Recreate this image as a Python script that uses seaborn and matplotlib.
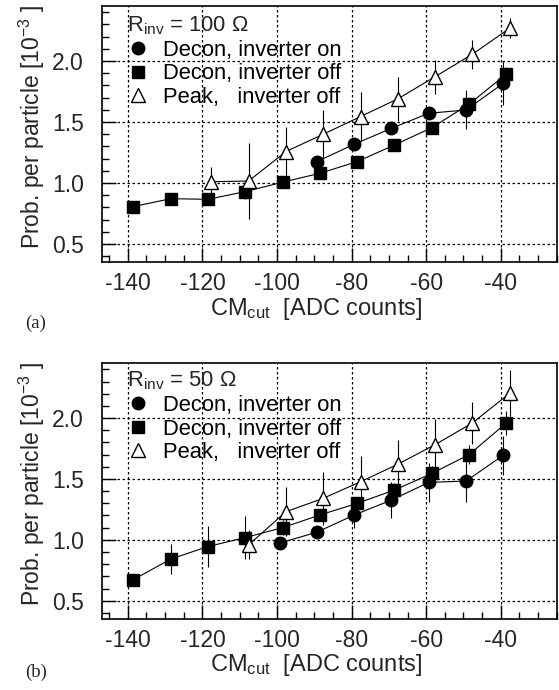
import numpy as np
import pandas as pd
import matplotlib
matplotlib.use("Agg")
import matplotlib.pyplot as plt
import seaborn as sns
from matplotlib.lines import Line2D
from matplotlib.ticker import MultipleLocator

# ---------------- data ----------------
# Panel (a): R_inv = 100 Ohm
sq_x_a = [-138.5, -128.5, -118.5, -108.5, -98.5, -88.5, -78.5, -68.5, -58.5, -48.5, -38.5]
sq_y_a = [0.806, 0.871, 0.866, 0.929, 1.006, 1.079, 1.175, 1.311, 1.453, 1.645, 1.893]
sq_e_a = [0.02, 0.02, 0.04, 0.06, 0.05, 0.03, 0.03, 0.05, 0.04, 0.06, 0.06]
ci_x_a = [-89.3, -79.3, -69.3, -59.3, -49.3, -39.3]
ci_y_a = [1.175, 1.317, 1.448, 1.571, 1.598, 1.817]
ci_e_a = [0.04, 0.04, 0.04, 0.05, 0.16, 0.18]
tr_x_a = [-117.6, -107.6, -97.6, -87.6, -77.6, -67.6, -57.6, -47.6, -37.6]
tr_y_a = [1.01, 1.016, 1.257, 1.399, 1.544, 1.689, 1.871, 2.055, 2.268]
tr_e_a = [0.12, 0.31, 0.20, 0.20, 0.20, 0.18, 0.14, 0.12, 0.08]

# Panel (b): R_inv = 50 Ohm
sq_x_b = [-138.5, -128.5, -118.5, -108.5, -98.5, -88.5, -78.5, -68.5, -58.5, -48.5, -38.5]
sq_y_b = [0.673, 0.842, 0.945, 1.019, 1.10, 1.204, 1.30, 1.409, 1.545, 1.70, 1.96]
sq_e_b = [0.02, 0.12, 0.17, 0.18, 0.06, 0.05, 0.05, 0.06, 0.06, 0.08, 0.10]
ci_x_b = [-99.3, -89.3, -79.3, -69.3, -59.3, -49.3, -39.3]
ci_y_b = [0.973, 1.063, 1.204, 1.327, 1.472, 1.483, 1.695]
ci_e_b = [0.03, 0.04, 0.11, 0.15, 0.16, 0.17, 0.16]
tr_x_b = [-107.6, -97.6, -87.6, -77.6, -67.6, -57.6, -47.6, -37.6]
tr_y_b = [0.959, 1.231, 1.341, 1.477, 1.621, 1.782, 1.96, 2.204]
tr_e_b = [0.12, 0.20, 0.22, 0.21, 0.20, 0.21, 0.17, 0.19]

labels = ["Decon, inverter on", "Decon, inverter off", "Peak,   inverter off"]
titles = ["R$_{\\mathrm{inv}}$ = 100 \u03a9", "R$_{\\mathrm{inv}}$ = 50 \u03a9"]
xticks = [-140, -120, -100, -80, -60, -40]
yticks = [0.5, 1.0, 1.5, 2.0]

# ---------------- style ----------------
sns.set_theme(style="white")
plt.rcParams["font.family"] = ["Liberation Sans", "DejaVu Sans"]
plt.rcParams["axes.unicode_minus"] = False
plt.rcParams["mathtext.fontset"] = "custom"
plt.rcParams["mathtext.rm"] = "Liberation Sans"
plt.rcParams["mathtext.it"] = "Liberation Sans:italic"
plt.rcParams["mathtext.default"] = "regular"

FS = 15.8
TFS = 16.5
LFS = 17.0

fig = plt.figure(figsize=(5.59, 6.90), dpi=100)
ax_a = fig.add_axes([0.1819, 0.6199, 0.8140, 0.3714])
ax_b = fig.add_axes([0.1819, 0.1029, 0.8140, 0.3706])

def frame(series):
    rows = []
    for name, xs, ys, es in series:
        for x, y, e in zip(xs, ys, es):
            rows.append(dict(series=name, x=x, y=y, err=e))
    return pd.DataFrame(rows)

panels = [
    (ax_a, [(labels[0], ci_x_a, ci_y_a, ci_e_a),
            (labels[1], sq_x_a, sq_y_a, sq_e_a),
            (labels[2], tr_x_a, tr_y_a, tr_e_a)], titles[0], 0.967),
    (ax_b, [(labels[0], ci_x_b, ci_y_b, ci_e_b),
            (labels[1], sq_x_b, sq_y_b, sq_e_b),
            (labels[2], tr_x_b, tr_y_b, tr_e_b)], titles[1], 0.975),
]

markers = {labels[0]: "o", labels[1]: "s", labels[2]: "^"}
faces = {labels[0]: "black", labels[1]: "black", labels[2]: "white"}
msize = {labels[0]: 9, labels[1]: 8.5, labels[2]: 10.5}

for ax, series, title, ly in panels:
    df = frame(series)
    for name in labels:
        sub = df[df["series"] == name]
        ax.errorbar(sub["x"], sub["y"], yerr=sub["err"], fmt="none",
                    ecolor="black", elinewidth=0.8, capsize=0, zorder=2)
        sns.lineplot(data=sub, x="x", y="y", ax=ax, color="black",
                     linewidth=0.8, marker=markers[name], markersize=msize[name],
                     markerfacecolor=faces[name], markeredgecolor="black",
                     markeredgewidth=1.0, sort=False, legend=False, zorder=3)

    ax.set_xlim(-147, -25)
    ax.set_ylim(0.35, 2.45)
    ax.set_xticks(xticks)
    ax.set_xticklabels([str(t) for t in xticks])
    ax.set_yticks(yticks)
    ax.set_yticklabels([f"{t:.1f}" for t in yticks])
    ax.xaxis.set_minor_locator(MultipleLocator(5))
    ax.yaxis.set_minor_locator(MultipleLocator(0.1))
    ax.grid(which="major", color="black", linestyle=(0, (2, 2)), linewidth=0.9)
    ax.grid(which="minor", visible=False)
    ax.tick_params(which="both", direction="in", top=False, right=False,
                   bottom=True, left=True, color="black", width=1.0)
    ax.tick_params(which="major", length=10)
    ax.tick_params(which="minor", length=5)
    ax.tick_params(axis="y", which="major", pad=13, labelsize=TFS)
    ax.tick_params(axis="x", which="major", pad=7, labelsize=TFS)
    for s in ax.spines.values():
        s.set_color("black")
        s.set_linewidth(1.2)
    ax.set_xlabel("CM$_{\\mathrm{cut}}$  [ADC counts]", fontsize=LFS)
    ax.xaxis.set_label_coords(0.471, -0.13)
    ax.set_ylabel("Prob. per particle [10$^{\\mathrm{-3}}$ ]", fontsize=TFS)
    ax.yaxis.set_label_coords(-0.12, 0.53)

    handles = [Line2D([], [], ls="none", marker=markers[n], markersize=msize[n],
                      markerfacecolor=faces[n], markeredgecolor="black",
                      markeredgewidth=1.0) for n in labels]
    leg = ax.legend(handles, labels, title=title, loc="upper left",
                    bbox_to_anchor=(0.055, ly), frameon=False,
                    fontsize=FS, title_fontsize=FS, alignment="left",
                    borderaxespad=0, borderpad=0, handlelength=1.0,
                    handletextpad=0.66, labelspacing=0.12)
    for t in leg.get_texts():
        t.set_color("black")

fig.text(36 / 559, 1 - 323 / 690, "(a)", ha="center", va="center",
         fontsize=13.5, family=["Liberation Serif", "DejaVu Serif"])
fig.text(36 / 559, 1 - 672 / 690, "(b)", ha="center", va="center",
         fontsize=13.5, family=["Liberation Serif", "DejaVu Serif"])

fig.savefig("out.png", dpi=100)
